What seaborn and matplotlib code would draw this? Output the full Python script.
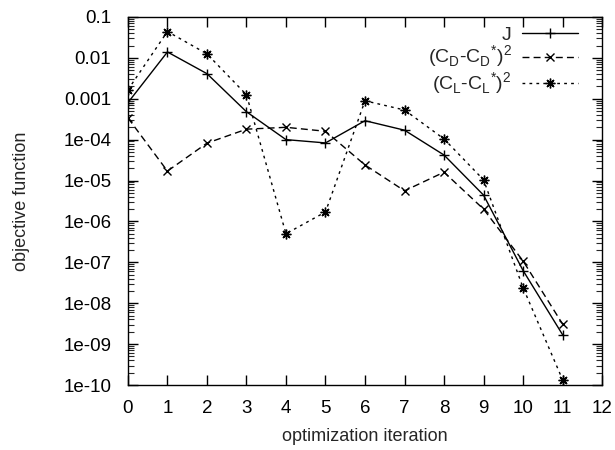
import numpy as np
import pandas as pd
import matplotlib
matplotlib.use("Agg")
import matplotlib.pyplot as plt
import matplotlib.ticker as mticker
import seaborn as sns

iterations = list(range(12))
J_vals = [8e-4, 0.0139, 0.0041, 4.8e-4, 1.0e-4, 8.3e-5, 2.9e-4, 1.7e-4, 4.2e-5, 4.4e-6, 6.3e-8, 1.7e-9]
CD_vals = [3.4e-4, 1.7e-5, 8.2e-5, 1.8e-4, 2.0e-4, 1.6e-4, 2.4e-5, 5.6e-6, 1.6e-5, 2.0e-6, 1.08e-7, 3.1e-9]
CL_vals = [1.65e-3, 0.044, 0.0125, 1.25e-3, 5.0e-7, 1.7e-6, 8.9e-4, 5.3e-4, 1.04e-4, 1.04e-5, 2.4e-8, 1.35e-10]
labels = ["J",
          "(C$_\\mathregular{D}$-C$_\\mathregular{D}$$^\\mathregular{*}$)$^\\mathregular{2}$",
          "(C$_\\mathregular{L}$-C$_\\mathregular{L}$$^\\mathregular{*}$)$^\\mathregular{2}$"]
x_ticks = list(range(13))
y_ticks = [1e-10, 1e-9, 1e-8, 1e-7, 1e-6, 1e-5, 1e-4, 1e-3, 1e-2, 1e-1]
y_ticklabels = ["1e-10", "1e-09", "1e-08", "1e-07", "1e-06", "1e-05", "1e-04", "0.001", "0.01", "0.1"]

sns.set_style("ticks")
plt.rcParams['font.family'] = ['Liberation Sans', 'DejaVu Sans']
plt.rcParams['mathtext.fontset'] = 'custom'
plt.rcParams['mathtext.rm'] = 'Liberation Sans'

fig = plt.figure(figsize=(6.15, 4.5), dpi=100)
ax = fig.add_axes([0.208, 0.1444, 0.771, 0.818])

df = pd.DataFrame({"x": iterations, "J": J_vals, "CD": CD_vals, "CL": CL_vals})

common = dict(ax=ax, color="black", lw=1.0, markeredgecolor="black", markeredgewidth=1.0)
sns.lineplot(data=df, x="x", y="J", marker="+", markersize=7, label=labels[0], **common)
sns.lineplot(data=df, x="x", y="CD", marker="x", markersize=6, label=labels[1], **common)
sns.lineplot(data=df, x="x", y="CL", marker=(8, 2, 0), markersize=7, label=labels[2], **common)
lines = ax.get_lines()
lines[1].set_dashes([5, 3])
lines[2].set_dashes([2, 3])

ax.set_yscale("log")
ax.set_xlim(0, 12)
ax.set_ylim(1e-10, 0.1)
ax.set_xticks(x_ticks)
ax.set_xticklabels([str(t) for t in x_ticks])
ax.set_yticks(y_ticks)
ax.set_yticklabels(y_ticklabels)
ax.yaxis.set_minor_locator(mticker.LogLocator(base=10, subs=np.arange(2, 10), numticks=100))
ax.yaxis.set_minor_formatter(mticker.NullFormatter())
ax.tick_params(axis="both", which="major", direction="in", length=7, width=1,
               top=True, right=True, labelsize=13.5, colors="black")
ax.tick_params(axis="x", which="major", pad=11)
ax.tick_params(axis="y", which="major", pad=12)
ax.tick_params(axis="y", which="minor", direction="in", length=4, width=0.8,
               left=True, right=True)
for s in ax.spines.values():
    s.set_linewidth(1.0)
    s.set_color("black")

ax.set_xlabel("optimization iteration", fontsize=13)
ax.set_ylabel("objective function", fontsize=13)
ax.xaxis.set_label_coords(0.5, -0.141)
ax.xaxis.label.set_va("center")
ax.yaxis.set_label_coords(-0.224, 0.5)
ax.yaxis.label.set_va("center")

leg = ax.legend(loc="upper right", bbox_to_anchor=(0.949, 0.975), frameon=False,
                markerfirst=False, fontsize=14, handlelength=2.9, labelspacing=0.0,
                borderaxespad=0.0, borderpad=0.0, handletextpad=0.5)
for t in leg.get_texts():
    t.set_ha("right")

fig.savefig("out.png", dpi=100)
